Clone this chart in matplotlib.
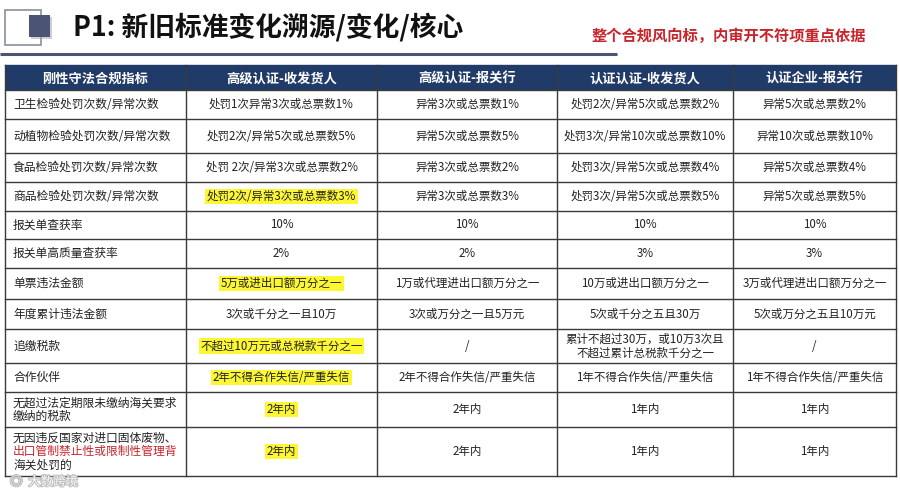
import matplotlib
matplotlib.use("Agg")
import matplotlib.pyplot as plt
from matplotlib.patches import Rectangle
import matplotlib.patheffects as pe

plt.rcParams['font.family'] = ['Noto Sans CJK SC', 'DejaVu Sans']

title = "P1: 新旧标准变化溯源/变化/核心"
subtitle = "整个合规风向标，内审开不符项重点依据"

headers = ["刚性守法合规指标", "高级认证-收发货人", "高级认证-报关行", "认证认证-收发货人", "认证企业-报关行"]

indicators = [
    ["卫生检验处罚次数/异常次数"],
    ["动植物检验处罚次数/异常次数"],
    ["食品检验处罚次数/异常次数"],
    ["商品检验处罚次数/异常次数"],
    ["报关单查获率"],
    ["报关单高质量查获率"],
    ["单票违法金额"],
    ["年度累计违法金额"],
    ["追缴税款"],
    ["合作伙伴"],
    ["无超过法定期限未缴纳海关要求", "缴纳的税款"],
    ["无因违反国家对进口固体废物、", "出口管制禁止性或限制性管理背", "海关处罚的"],
]
indicator_red_lines = {11: [1]}

adv_shipper = ["处罚1次异常3次或总票数1%", "处罚2次/异常5次或总票数5%", "处罚 2次/异常3次或总票数2%",
               "处罚2次/异常3次或总票数3%", "10%", "2%", "5万或进出口额万分之一", "3次或千分之一且10万",
               "不超过10万元或总税款千分之一", "2年不得合作失信/严重失信", "2年内", "2年内"]
adv_broker = ["异常3次或总票数1%", "异常5次或总票数5%", "异常3次或总票数2%", "异常3次或总票数3%",
              "10%", "2%", "1万或代理进出口额万分之一", "3次或万分之一且5万元", "/",
              "2年不得合作失信/严重失信", "2年内", "2年内"]
cert_shipper = ["处罚2次/异常5次或总票数2%", "处罚3次/异常10次或总票数10%", "处罚3次/异常5次或总票数4%",
                "处罚3次/异常5次或总票数5%", "10%", "3%", "10万或进出口额万分之一", "5次或千分之五且30万",
                "累计不超过30万，或10万3次且\n不超过累计总税款千分之一", "1年不得合作失信/严重失信", "1年内", "1年内"]
cert_broker = ["异常5次或总票数2%", "异常10次或总票数10%", "异常5次或总票数4%", "异常5次或总票数5%",
               "10%", "3%", "3万或代理进出口额万分之一", "5次或万分之五且10万元", "/",
               "1年不得合作失信/严重失信", "1年内", "1年内"]
highlighted_rows_col1 = [3, 6, 8, 9, 10, 11]

# layout (pixels)
col_edges = [5, 186, 377, 557, 733, 896]
row_edges = [65, 90, 119, 153, 182, 211, 239, 268, 299, 329, 363, 392, 427, 476]

fig = plt.figure(figsize=(9, 4.88), dpi=100)
ax = fig.add_axes([0, 0, 1, 1])
ax.set_xlim(0, 900)
ax.set_ylim(488, 0)
ax.axis('off')

# icon
ax.add_patch(Rectangle((5, 10), 36, 35, fc='white', ec='#8a8f9c', lw=1.2, zorder=2))
ax.add_patch(Rectangle((31, 17), 21, 22, fc='#9aa0ad', ec='none', alpha=0.5, zorder=2))
ax.add_patch(Rectangle((29, 15), 21, 22, fc='#4b5573', ec='none', zorder=3))

ax.text(73, 27, title, fontsize=19.3, fontweight='bold', color='#111111', va='center', ha='left')
ax.text(592, 36, subtitle, fontsize=11, fontweight='bold', color='#c8242b', va='center', ha='left')
ax.plot([0, 617], [54, 54], color='#4b5573', lw=2.2, solid_capstyle='butt')

# header
ax.add_patch(Rectangle((col_edges[0], row_edges[0]), col_edges[-1] - col_edges[0],
                       row_edges[1] - row_edges[0], fc='#213b68', ec='none'))
for i, h in enumerate(headers):
    cx = (col_edges[i] + col_edges[i + 1]) / 2
    ax.text(cx, (row_edges[0] + row_edges[1]) / 2 + 1, h, fontsize=9.5, fontweight='bold',
            color='white', ha='center', va='center')

columns = [adv_shipper, adv_broker, cert_shipper, cert_broker]
line_h = 13.5
for r in range(len(indicators)):
    y0, y1 = row_edges[r + 1], row_edges[r + 2]
    cy = (y0 + y1) / 2
    lines = indicators[r]
    n = len(lines)
    for k, ln in enumerate(lines):
        yy = cy + (k - (n - 1) / 2) * line_h
        col = '#c8242b' if k in indicator_red_lines.get(r, []) else '#222222'
        ax.text(13, yy, ln, fontsize=8.5, color=col, ha='left', va='center')
    for c, vals in enumerate(columns):
        cx = (col_edges[c + 1] + col_edges[c + 2]) / 2
        kw = {}
        if c == 0 and r in highlighted_rows_col1:
            kw['bbox'] = dict(boxstyle='square,pad=0.12', fc='#fdf733', ec='none')
        ax.text(cx, cy, vals[r], fontsize=8.3, color='#222222', ha='center', va='center',
                linespacing=1.15, **kw)

# grid lines
for y in row_edges[1:]:
    ax.plot([col_edges[0], col_edges[-1]], [y, y], color='#3a3a3a', lw=1.0)
for x in col_edges:
    ax.plot([x, x], [row_edges[0], row_edges[-1]], color='#3a3a3a', lw=1.0)
ax.plot([col_edges[0], col_edges[-1]], [row_edges[0], row_edges[0]], color='#213b68', lw=1.0)

# watermark (kept just below the table so it does not cover cell text)
ax.text(10, 482, "◎  大数跨境", fontsize=9, color='white', alpha=0.9, ha='left', va='center',
        path_effects=[pe.withStroke(linewidth=1.4, foreground='#b5b5b5')], zorder=10)

fig.savefig("out.png", dpi=100)
